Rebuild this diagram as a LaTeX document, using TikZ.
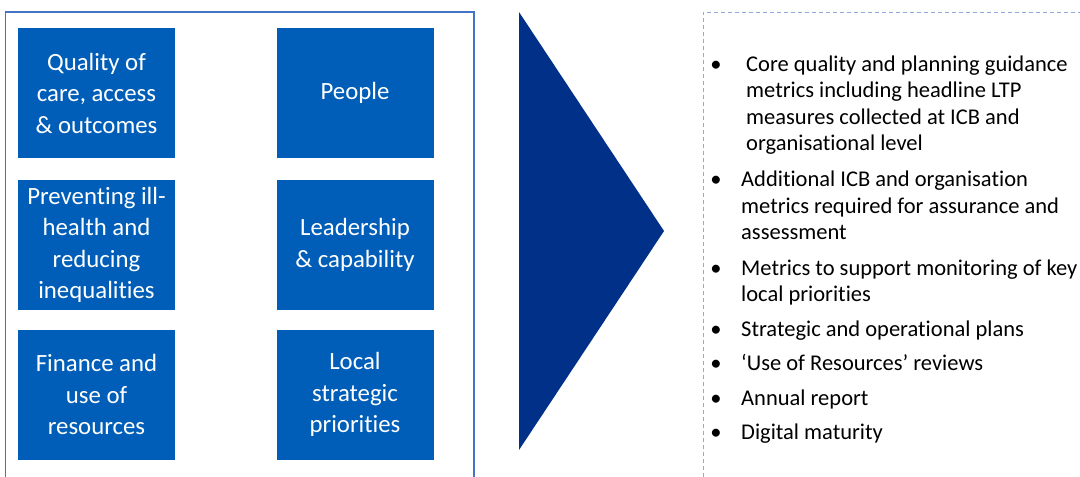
\documentclass[tikz,border=0pt]{standalone}
\usepackage{fontspec}
\setmainfont{Carlito}[Ligatures=NoCommon]
\usepackage{xcolor}
\usepackage{tikz}

\definecolor{nhsblue}{HTML}{005EB8}
\definecolor{nhsdark}{HTML}{003087}
\definecolor{framecol}{HTML}{4472C4}
\definecolor{dashcol}{HTML}{8FAADC}

\begin{document}
\begin{tikzpicture}[x=1pt, y=-1pt,
    area/.style={fill=nhsblue, text=white, minimum width=157pt, minimum height=130pt,
        inner sep=0pt, align=center, font=\fontsize{24.8}{31.5}\selectfont},
    item/.style={anchor=base west, inner sep=0pt, align=left,
        font=\fontsize{22.5}{26.5}\selectfont},
    dot/.style={anchor=base, inner sep=0pt, font=\fontsize{22.5}{26.5}\selectfont}]
    \useasboundingbox (0,0) rectangle (1080,477);

    % Left panel - frame runs off the bottom
    \draw[framecol, line width=1.2pt] (5.5,477) -- (5.5,12) -- (474,12) -- (474,477);

    % Top row
    \node[area] (quality) at (96.5,93) {Quality of\\care, access\\\& outcomes};
    \node[area] (people) at (355,93) {People};

    % Middle row
    \node[area] (prevent) at (96.5,245) {Preventing ill-\\health and\\reducing\\inequalities};
    \node[area] (leader) at (355,245) {Leadership\\\& capability};

    % Bottom row
    \node[area] (finance) at (96.5,394.5) {Finance and\\use of\\resources};
    \node[area] (local) at (355,394.5) {Local\\strategic\\priorities};

    % Big arrow head
    \fill[nhsdark] (519,12) -- (664,231) -- (519,450) -- cycle;

    % Right panel - dashed, open at the right and bottom
    \draw[dashcol, line width=1pt, dash pattern=on 4pt off 3pt] (703,477) -- (703,12) -- (1080,12);

    % Outputs list (base = last line of each item)
    \node[item] (core) at (746,150.5) {Core quality and planning guidance\\metrics including headline LTP\\measures collected at ICB and\\organisational level};
    \node[item] (extra) at (741,239.5) {Additional ICB and organisation\\metrics required for assurance and\\assessment};
    \node[item] (monitor) at (741,301.5) {Metrics to support monitoring of key\\local priorities};
    \node[item] (plans) at (741,336) {Strategic and operational plans};
    \node[item] (review) at (741,370.5) {‘Use of Resources’ reviews};
    \node[item] (report) at (741,405) {Annual report};
    \node[item] (digital) at (741,439) {Digital maturity};

    % Bullets
    \foreach \y [count=\i] in {71,186.5,275,336,370.5,405,439}
        \node[dot] (bullet\i) at (716,\y) {•};
\end{tikzpicture}
\end{document}
